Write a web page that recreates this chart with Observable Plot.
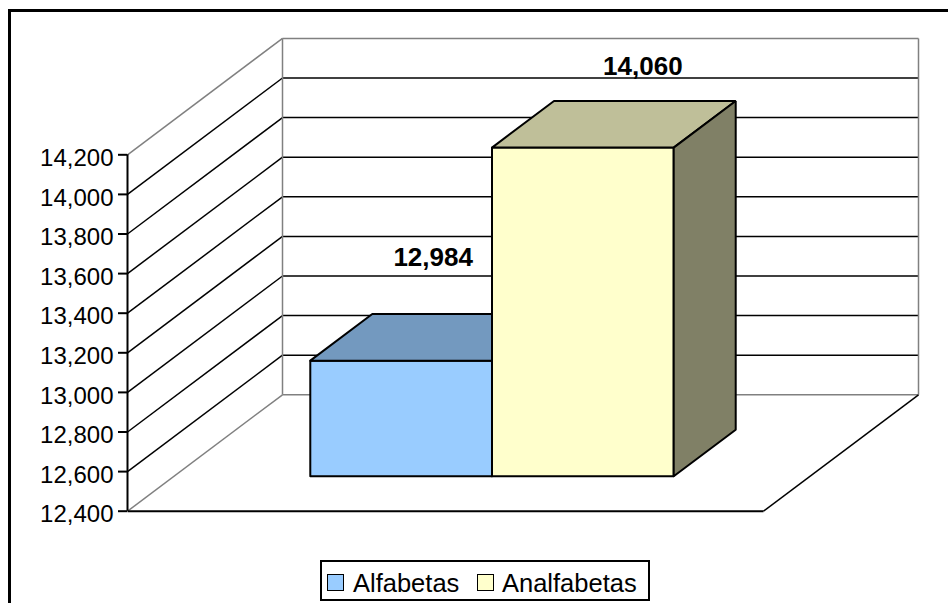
<!DOCTYPE html>
<html><head><meta charset="utf-8">
<script src="https://cdn.jsdelivr.net/npm/d3@7"></script>
<script src="https://cdn.jsdelivr.net/npm/@observablehq/plot@0.6"></script>
<style>
html,body{margin:0;padding:0;background:#fff;overflow:hidden;width:948px;height:603px;}
#chart{position:absolute;left:0;top:0;}
#border{position:absolute;left:8px;top:9px;width:1000px;height:700px;border:3px solid #000;pointer-events:none;}
#legend{position:absolute;left:320px;top:560px;width:330px;height:41px;box-sizing:border-box;border:2px solid #000;background:#fff;font-family:'Liberation Sans',Arial,sans-serif;font-size:25.5px;color:#000;}
.sw{position:absolute;width:17px;height:17px;box-sizing:border-box;border:1.5px solid #000;}
.lt{position:absolute;line-height:25.5px;white-space:nowrap;}
</style></head><body>
<div id="chart"></div>
<div id="legend"></div>
<div id="border"></div>
<script>
// ---- data ----
const series = ["Alfabetas", "Analfabetas"];
const values = [12984, 14060];
const valueLabels = ["12,984", "14,060"];
const yTicks = [12400, 12600, 12800, 13000, 13200, 13400, 13600, 13800, 14000, 14200];
const tickLabels = ["12,400", "12,600", "12,800", "13,000", "13,200", "13,400", "13,600", "13,800", "14,000", "14,200"];

// ---- styles ----
const frontColors = ["#99CCFF", "#FFFFCC"];
const topColors = ["#7399BF", "#BFBF99"];
const sideColors = ["#4D6680", "#808066"];
const gray = "#808080";
const font = "'Liberation Sans', Arial, sans-serif";

// ---- 3D oblique projection (in data units) ----
const yMin = yTicks[0], yMax = yTicks[yTicks.length - 1];
const KX = 155 / 636;          // depth shift along x (category units)
const KY = 588;                // depth shift along y (value units)
const barW = 1 / 3.5, gapW = 0.75 * barW;   // gap width 150%
const z0 = 0.3, z1 = 0.7;      // bar depth span
const P = (x, z, v) => ({X: x + z * KX, Y: v + z * KY});

const edgeTicks = [yMin, yMax];
const innerTicks = yTicks.filter(v => v !== yMin && v !== yMax);

const sideLine = v => ({x1: 0, y1: v, x2: KX, y2: v + KY});
const backLine = v => ({x1: KX, y1: v + KY, x2: 1 + KX, y2: v + KY});

const marks = [];
// side wall & back wall gridlines
marks.push(Plot.link(innerTicks.map(sideLine), {x1: "x1", y1: "y1", x2: "x2", y2: "y2", stroke: "black", strokeWidth: 1.5}));
marks.push(Plot.link(innerTicks.map(backLine), {x1: "x1", y1: "y1", x2: "x2", y2: "y2", stroke: "black", strokeWidth: 1.5}));
marks.push(Plot.link(edgeTicks.map(sideLine), {x1: "x1", y1: "y1", x2: "x2", y2: "y2", stroke: gray, strokeWidth: 1.5}));
marks.push(Plot.link(edgeTicks.map(backLine), {x1: "x1", y1: "y1", x2: "x2", y2: "y2", stroke: gray, strokeWidth: 1.5}));
// back wall verticals
marks.push(Plot.link([KX, 1 + KX], {x1: d => d, x2: d => d, y1: yMin + KY, y2: yMax + KY, stroke: gray, strokeWidth: 1.5}));
// floor
marks.push(Plot.link([{x1: 0, y1: yMin, x2: 1, y2: yMin}], {x1: "x1", y1: "y1", x2: "x2", y2: "y2", stroke: "black", strokeWidth: 2}));
marks.push(Plot.link([{x1: 1, y1: yMin, x2: 1 + KX, y2: yMin + KY}], {x1: "x1", y1: "y1", x2: "x2", y2: "y2", stroke: "black", strokeWidth: 1.5}));
// front value axis
marks.push(Plot.ruleX([0], {y1: yMin, y2: yMax, stroke: "black", strokeWidth: 2}));
// ticks
marks.push(Plot.axisY({
  ticks: yTicks, tickFormat: () => "",
  tickSize: 9, stroke: "black", strokeWidth: 2, label: null, anchor: "left"
}));
// tick labels
marks.push(Plot.axisY({
  ticks: yTicks, tickFormat: d => tickLabels[yTicks.indexOf(d)],
  tickSize: 0, tickPadding: 14, dy: 3.5, fontSize: 24, fontFamily: font,
  stroke: "none", fill: "black", label: null, anchor: "left"
}));

// bars
series.forEach((s, i) => {
  const x0 = gapW + i * barW, x1 = x0 + barW, v = values[i];
  const front = [P(x0, z0, yMin), P(x1, z0, yMin), P(x1, z0, v), P(x0, z0, v), P(x0, z0, yMin)];
  const top = [P(x0, z0, v), P(x1, z0, v), P(x1, z1, v), P(x0, z1, v), P(x0, z0, v)];
  const side = [P(x1, z0, yMin), P(x1, z1, yMin), P(x1, z1, v), P(x1, z0, v), P(x1, z0, yMin)];
  const opts = {x: "X", y: "Y", stroke: "black", strokeWidth: 2, strokeLinejoin: "miter"};
  marks.push(Plot.line(front, {...opts, fill: frontColors[i]}));
  marks.push(Plot.line(top, {...opts, fill: topColors[i]}));
  marks.push(Plot.line(side, {...opts, fill: sideColors[i]}));
});

// data labels
const labelOffsets = [[1, -80], [29, -58]];
series.forEach((s, i) => {
  const x0 = gapW + i * barW;
  const a = P(x0 + barW / 2, 0.5, values[i]);
  marks.push(Plot.text([a], {
    x: "X", y: "Y", text: () => valueLabels[i],
    dx: labelOffsets[i][0], dy: labelOffsets[i][1],
    fontSize: 26, fontWeight: "bold", fontFamily: font, fill: "black", textAnchor: "middle"
  }));
});

const pxPer200 = 39.6, yBottom = 510.7;
const chart = Plot.plot({
  width: 948, height: 556,
  marginLeft: 127, marginTop: 38, marginRight: 30, marginBottom: 45,
  x: {type: "linear", domain: [0, 1 + KX], range: [127, 127 + 636 * (1 + KX)], axis: null},
  y: {type: "linear", domain: [yMin, yMax + KY], range: [yBottom, yBottom - (yMax + KY - yMin) / 200 * pxPer200]},
  style: {fontFamily: font, background: "white", overflow: "visible"},
  marks
});
document.getElementById("chart").appendChild(chart);

// legend
const legend = document.getElementById("legend");
const swLeft = [5, 155], txtLeft = [31, 180];
series.forEach((s, i) => {
  const sw = document.createElement("div");
  sw.className = "sw";
  sw.style.left = swLeft[i] + "px";
  sw.style.top = "12px";
  sw.style.background = frontColors[i];
  legend.appendChild(sw);
  const t = document.createElement("span");
  t.className = "lt";
  t.style.left = txtLeft[i] + "px";
  t.style.top = "9px";
  t.textContent = s;
  legend.appendChild(t);
});
</script></body></html>
